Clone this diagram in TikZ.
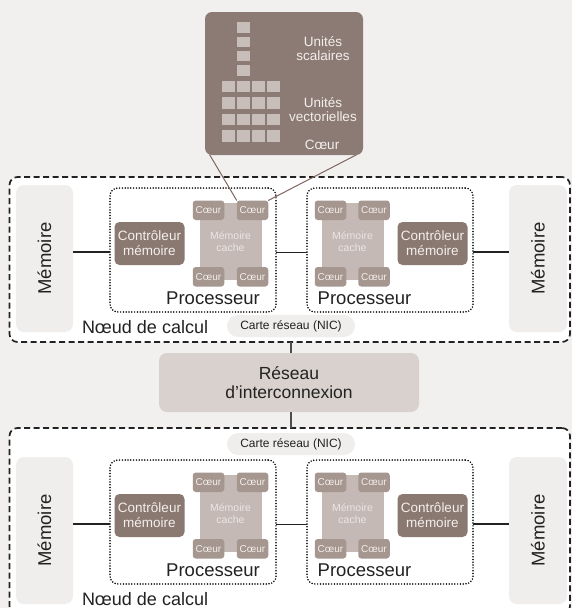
\documentclass[tikz,border=0pt]{standalone}
\usepackage{fontspec}
\setmainfont{Liberation Sans}
\definecolor{bgc}{HTML}{F2F0EF}
\definecolor{memfill}{HTML}{F0EEEC}
\definecolor{popfill}{HTML}{8B7B74}
\definecolor{ctrlfill}{HTML}{8A7971}
\definecolor{corefill}{HTML}{A5968F}
\definecolor{cachefill}{HTML}{C4B9B4}
\definecolor{sqfill}{HTML}{C8BEB9}
\definecolor{interfill}{HTML}{D9D1CD}
\definecolor{ink}{HTML}{222222}
\definecolor{popline}{HTML}{7C675E}
\definecolor{lighttext}{HTML}{F4EFEC}
\definecolor{cachetext}{HTML}{ECE6E3}
\tikzset{
  box/.style={rectangle, inner sep=0pt, outer sep=0pt, align=center},
  membox/.style={box, fill=memfill, rounded corners=8pt, minimum width=57pt, minimum height=147pt, text=ink, font=\fontsize{18.5}{20}\selectfont},
  procbox/.style={box, draw=black, line width=1.7pt, dash pattern=on 0pt off 2.8pt, line cap=round, rounded corners=8pt, minimum width=166pt, minimum height=124pt},
  ctrlbox/.style={box, fill=ctrlfill, rounded corners=5pt, minimum width=70pt, minimum height=43pt, text=lighttext, font=\fontsize{13.5}{15}\selectfont},
  cachebox/.style={box, fill=cachefill, minimum width=62pt, minimum height=77pt, text=cachetext, font=\fontsize{10.5}{12.5}\selectfont},
  corebox/.style={box, fill=corefill, rounded corners=3pt, minimum width=31.5pt, minimum height=19.5pt, text=lighttext, font=\fontsize{10}{11}\selectfont},
  proclabel/.style={box, text=ink, font=\fontsize{18.5}{20}\selectfont},
  nodelabel/.style={box, anchor=west, text=ink, font=\fontsize{18}{20}\selectfont},
  nodebox/.style={box, fill=white, draw=ink, line width=1.7pt, dash pattern=on 6pt off 3.5pt, rounded corners=8pt},
  nicbox/.style={box, fill=memfill, rounded corners=11pt, minimum width=128pt, minimum height=22pt, text=ink, font=\fontsize{12}{13}\selectfont},
  interbox/.style={box, fill=interfill, rounded corners=8pt, minimum width=260pt, minimum height=59pt, text=ink, font=\fontsize{17.5}{19}\selectfont},
  thickline/.style={draw=ink, line width=2.4pt},
  thinline/.style={draw=ink, line width=1pt},
  vline/.style={draw=ink!80, line width=1.6pt},
  popbox/.style={box, fill=popfill, rounded corners=7pt, minimum width=158pt, minimum height=143pt},
  sqsc/.style={box, fill=sqfill, minimum width=13.5pt, minimum height=10.5pt},
  sqv/.style={box, fill=sqfill, minimum width=13.5pt, minimum height=11.3pt},
  poptext/.style={box, text=lighttext, font=\fontsize{13.5}{14.5}\selectfont},
  poplink/.style={draw=popline, line width=1pt}
}
\newcommand\computeblock[2]{%
\begin{scope}[yshift=-#2pt]
  \node[membox] (#1memL) at (44.5,258.5) {\rotatebox{90}{Mémoire}};
  \node[membox, minimum width=58pt] (#1memR) at (538,258.5) {\rotatebox{90}{Mémoire}};
  \node[procbox] (#1procL) at (193,250) {};
  \node[procbox] (#1procR) at (390,250) {};
  \node[ctrlbox] (#1ctrlL) at (149.5,243.5) {Contrôleur\\mémoire};
  \node[ctrlbox] (#1ctrlR) at (432.5,243.5) {Contrôleur\\mémoire};
  \node[cachebox] (#1cacheL) at (230.5,241.5) {Mémoire\\cache};
  \node[cachebox] (#1cacheR) at (352.5,241.5) {Mémoire\\cache};
  \node[corebox] (#1cLa) at (208.5,210.25) {Cœur};
  \node[corebox] (#1cLb) at (252.5,210.25) {Cœur};
  \node[corebox] (#1cLc) at (208.5,276.75) {Cœur};
  \node[corebox] (#1cLd) at (252.5,276.75) {Cœur};
  \node[corebox] (#1cRa) at (330.5,210.25) {Cœur};
  \node[corebox] (#1cRb) at (374,210.25) {Cœur};
  \node[corebox] (#1cRc) at (330.5,276.75) {Cœur};
  \node[corebox] (#1cRd) at (374,276.75) {Cœur};
  \node[proclabel] (#1plL) at (213,298) {Processeur};
  \node[proclabel] (#1plR) at (364.5,298) {Processeur};
  \node[nodelabel] (#1nl) at (82,327) {Nœud de calcul};
  \coordinate (#1ly) at (0,252);
  \draw[thickline] (#1memL.east |- #1ly) -- (#1procL.west |- #1ly);
  \draw[thinline] (#1procL.east |- #1ly) -- (#1procR.west |- #1ly);
  \draw[thickline] (#1procR.east |- #1ly) -- (#1memR.west |- #1ly);
\end{scope}}
\begin{document}
\begin{tikzpicture}[x=1pt,y=-1pt]
  \clip (0,0) rectangle (572,608);
  \fill[bgc] (0,0) rectangle (572,608);
  % compute node frames
  \node[nodebox, minimum width=560.5pt, minimum height=165pt] (topnode) at (289.75,259.5) {};
  \node[nodebox, minimum width=560.5pt, minimum height=186pt] (botnode) at (289.75,521) {};
  \computeblock{t}{0}
  \computeblock{b}{272}
  % network cards and interconnect
  \node[nicbox] (nicT) at (291,326) {Carte réseau (NIC)};
  \node[nicbox] (nicB) at (291,444) {Carte réseau (NIC)};
  \node[interbox] (inter) at (289,382.5) {Réseau\\d'interconnexion};
  \draw[vline] (topnode.south -| nicT) -- (inter.north -| nicT);
  \draw[vline] (inter.south -| nicB) -- (botnode.north -| nicB);
  % zoom popup
  \coordinate (pl) at (209.5,154.5);
  \coordinate (pr) at (357,154.5);
  \draw[poplink] (pl) -- (tcLb.north west);
  \draw[poplink] (pr) -- (tcLb.north east);
  \node[popbox] (pop) at (284,83.5) {};
  \foreach \i/\y in {1/27.25,2/41.75,3/56,4/70.5}
    \node[sqsc] (s\i) at (243.5,\y) {};
  \foreach \r/\y in {1/86.3,2/102.9,3/119.5,4/135.9}
    \foreach \c/\x in {1/228.5,2/243.5,3/258.5,4/273.5}
      \node[sqv] (v\r\c) at (\x,\y) {};
  \node[poptext] (tsc) at (323,48.5) {Unités\\scalaires};
  \node[poptext] (tvec) at (323,109.5) {Unités\\vectorielles};
  \node[poptext] (tcore) at (322,145) {Cœur};
\end{tikzpicture}
\end{document}
